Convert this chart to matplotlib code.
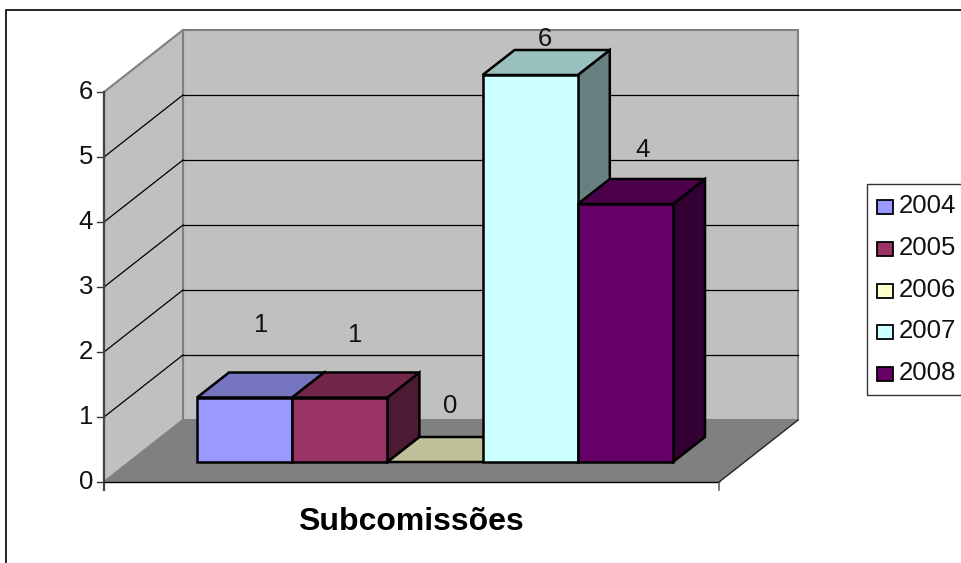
import matplotlib
matplotlib.use("Agg")
import matplotlib.pyplot as plt
from matplotlib.patches import Polygon, Rectangle

years = ['2004', '2005', '2006', '2007', '2008']
values = [1, 1, 0, 6, 4]
y_ticks = [0, 1, 2, 3, 4, 5, 6]
front_colors = ['#9999FF', '#993366', '#FFFFCC', '#CCFFFF', '#660066']
top_colors = ['#7474BF', '#732649', '#BFBF99', '#99BFBF', '#4C004C']
side_colors = ['#4D4D80', '#4D1A33', '#808066', '#668080', '#330033']
xlabel = 'Subcomissões'

plt.rcParams['font.family'] = ['Liberation Sans', 'DejaVu Sans']

W, H = 961, 563
fig = plt.figure(figsize=(W / 100, H / 100), dpi=100)
ax = fig.add_axes([0, 0, 1, 1])
ax.set_xlim(0, W)
ax.set_ylim(H, 0)
ax.axis('off')

# layout in pixels
wall_x0, wall_x1, wall_y0 = 104, 719, 482
wall_unit = 65
dx, dy = 79, -62
bar_x0, bar_w, bar_y0, bar_unit = 197, 95.2, 462, 64.5
bdx, bdy = 32, -25
# data labels sit at odd places in the original, offset from the front top of each bar
label_dx = [17, 15, 15, 15, 17]
label_dy = [-73, -63, -56, -36, -54]


def poly(pts, fc, ec='black', lw=1.0, z=1):
    ax.add_patch(Polygon(pts, closed=True, fc=fc, ec=ec, lw=lw, zorder=z, joinstyle='miter'))


def wall_y(v):
    return wall_y0 - wall_unit * v


# chart frame
ax.add_patch(Rectangle((6, 10), 960, 570, fc='white', ec='black', lw=1.2, zorder=0))

top = max(y_ticks)
poly([(wall_x0 + dx, wall_y(top) + dy), (wall_x1 + dx, wall_y(top) + dy),
      (wall_x1 + dx, wall_y0 + dy), (wall_x0 + dx, wall_y0 + dy)], '#C0C0C0', ec='#808080', lw=1.5)
poly([(wall_x0, wall_y0), (wall_x0, wall_y(top)), (wall_x0 + dx, wall_y(top) + dy),
      (wall_x0 + dx, wall_y0 + dy)], '#C0C0C0', ec='#808080', lw=1.5)
poly([(wall_x0, wall_y0), (wall_x1, wall_y0), (wall_x1 + dx, wall_y0 + dy),
      (wall_x0 + dx, wall_y0 + dy)], '#808080', ec='#808080', lw=1.0)

# gridlines and y axis
for v in y_ticks[1:-1]:
    ax.plot([wall_x0, wall_x0 + dx], [wall_y(v), wall_y(v) + dy], color='black', lw=0.9, zorder=2)
    ax.plot([wall_x0 + dx, wall_x1 + dx], [wall_y(v) + dy, wall_y(v) + dy], color='black', lw=0.9, zorder=2)
for v in y_ticks:
    ax.plot([wall_x0 - 7, wall_x0], [wall_y(v), wall_y(v)], color='#333333', lw=1.0, zorder=2)
    ax.text(wall_x0 - 11, wall_y(v), str(v), ha='right', va='center', fontsize=18.5, color='#111111')
ax.plot([wall_x0, wall_x0], [wall_y(top), wall_y0 + 8], color='#444444', lw=1.6, zorder=2)
ax.plot([wall_x0, wall_x1], [wall_y0, wall_y0], color='black', lw=1.0, zorder=2)
ax.plot([wall_x1, wall_x1], [wall_y0, wall_y0 + 8], color='#666666', lw=1.2, zorder=2)
ax.plot([wall_x1, wall_x1 + dx], [wall_y0, wall_y0 + dy], color='#222222', lw=0.9, zorder=2)

# bars
for i, v in enumerate(values):
    x0 = bar_x0 + i * bar_w
    x1 = x0 + bar_w
    yt = bar_y0 - bar_unit * v
    z = 3 + i
    if v > 0:
        poly([(x1, bar_y0), (x1 + bdx, bar_y0 + bdy), (x1 + bdx, yt + bdy), (x1, yt)],
             side_colors[i], lw=1.8, z=z)
    poly([(x0, yt), (x1, yt), (x1 + bdx, yt + bdy), (x0 + bdx, yt + bdy)], top_colors[i], lw=1.8, z=z)
    if v > 0:
        ax.add_patch(Rectangle((x0, yt), bar_w, bar_y0 - yt, fc=front_colors[i], ec='black', lw=1.8, zorder=z))
    ax.text(x0 + bar_w / 2 + label_dx[i], yt + label_dy[i], str(v), ha='center', va='center',
            fontsize=18.5, color='#111111', zorder=10)

ax.text(411, 522, xlabel, ha='center', va='center', fontsize=23, fontweight='bold', color='black')

# legend
ax.add_patch(Rectangle((867, 184), 110, 211, fc='white', ec='#333333', lw=1.0, zorder=1))
for i, year in enumerate(years):
    yc = 207 + i * 41.8
    ax.add_patch(Rectangle((877, yc - 7), 16, 14, fc=front_colors[i], ec='black', lw=1.3, zorder=2))
    ax.text(899, yc - 1, year, ha='left', va='center', fontsize=18.5, color='#111111', zorder=2)

fig.savefig('out.png', dpi=100)
